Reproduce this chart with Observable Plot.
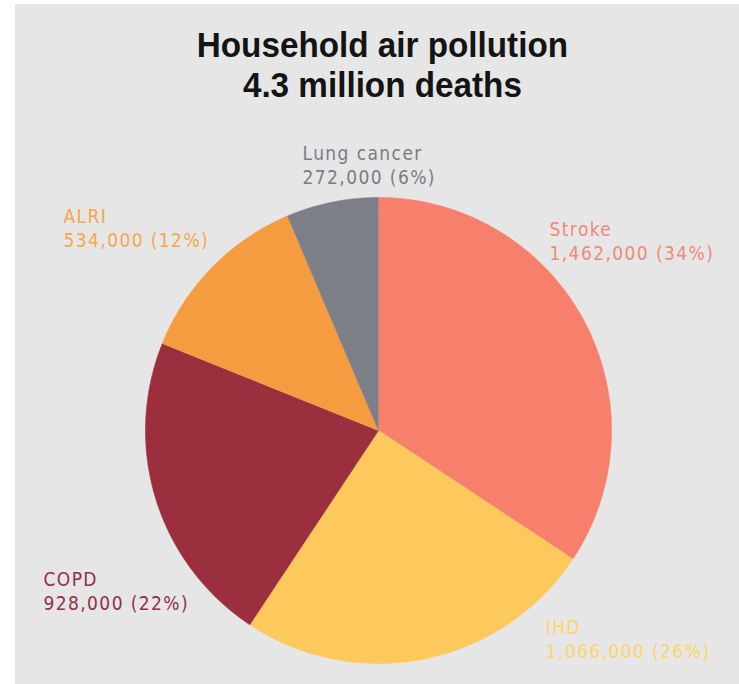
<!DOCTYPE html>
<html><head><meta charset="utf-8">
<script src="https://cdn.jsdelivr.net/npm/d3@7"></script>
<script src="https://cdn.jsdelivr.net/npm/@observablehq/plot@0.6"></script>
<style>
html,body{margin:0;padding:0;background:#fff;}
#card{position:absolute;left:15px;top:4px;width:724px;height:680px;background:#e6e6e6;overflow:hidden;}
#title{height:100px;padding-top:21px;padding-left:10px;box-sizing:border-box;text-align:center;}
#title span{display:inline-block;transform:scaleX(0.95);transform-origin:50% 50%;
  font-family:"Liberation Sans",Arial,sans-serif;font-weight:bold;font-size:35px;line-height:40px;color:#141414;}
</style></head><body>
<div id="card"><div id="title"><span>Household air pollution<br>4.3 million deaths</span></div><div id="chart"></div></div>
<script>
// ---- data ----
const causes = ["Stroke", "IHD", "COPD", "ALRI", "Lung cancer"];
const deaths = [1462000, 1066000, 928000, 534000, 272000];
const percents = [34, 26, 22, 12, 6];

// ---- styles / layout ----
const sliceColors = ["#f6806b", "#fec95c", "#9c2f3e", "#f59b40", "#7c7f87"];
const labelColors = ["#ef8a7a", "#fbd46c", "#93304a", "#f4a64e", "#7a7d85"];
const labelPos = { // label anchor (left, cap-top) in pie-radius units
  "Stroke": [0.734, 0.906],
  "IHD": [0.717, -0.802],
  "COPD": [-1.438, -0.596],
  "ALRI": [-1.352, 0.962],
  "Lung cancer": [-0.326, 1.232]
};

const fmt = d3.format(",");
const pie = d3.pie().sort(null).value(d => d.deaths);
const rows = causes.map((c, i) => ({cause: c, deaths: deaths[i], pct: percents[i]}));
const arcs = pie(rows);

// polygon outline of each wedge in unit-radius coordinates
const wedgePts = [];
arcs.forEach(a => {
  wedgePts.push({cause: a.data.cause, x: 0, y: 0});
  const n = Math.max(2, Math.ceil((a.endAngle - a.startAngle) / (Math.PI / 360)));
  for (let k = 0; k <= n; k++) {
    const t = a.startAngle + (a.endAngle - a.startAngle) * k / n;
    wedgePts.push({cause: a.data.cause, x: Math.sin(t), y: Math.cos(t)});
  }
});

const labels = rows.map(r => ({
  cause: r.cause,
  lx: labelPos[r.cause][0],
  ly: labelPos[r.cause][1],
  text: `${r.cause}\n${fmt(r.deaths)} (${r.pct}%)`
}));

const font = '"DejaVu Sans Condensed","Liberation Sans",sans-serif';

const chart = Plot.plot({
  width: 724, height: 580, margin: 0,
  style: {background: "transparent", overflow: "visible", letterSpacing: "1.4px", fontStretch: "condensed"},
  x: {domain: [-1, 1], range: [130, 596], axis: null},
  y: {domain: [-1, 1], range: [559, 93], axis: null},
  color: {domain: causes, range: sliceColors},
  marks: [
    Plot.line(wedgePts, {x: "x", y: "y", z: "cause", fill: "cause", stroke: "cause", strokeWidth: 0.6, curve: "linear"}),
    ...labels.map((l, i) => Plot.text([l], {
      x: "lx", y: "ly", text: "text", fill: labelColors[i],
      textAnchor: "start", lineAnchor: "top", lineHeight: 1.26,
      fontSize: 19, fontFamily: font
    }))
  ]
});
document.getElementById("chart").appendChild(chart);
</script>
</body></html>
